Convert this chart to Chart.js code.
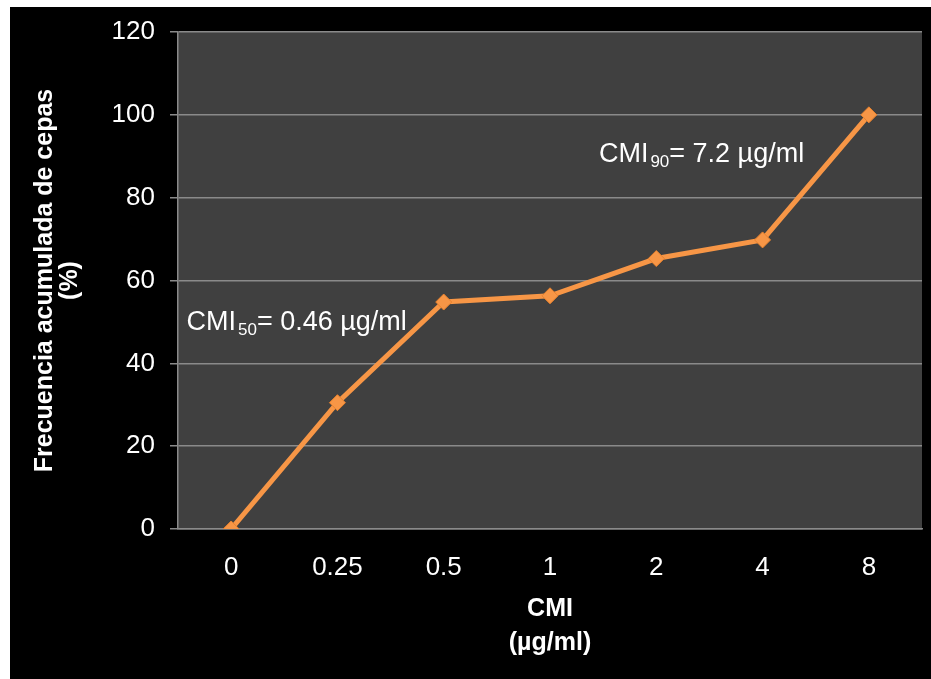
<!DOCTYPE html>
<html>
<head>
<meta charset="utf-8">
<script src="https://cdn.jsdelivr.net/npm/chart.js@4"></script>
<style>
    html, body { margin: 0; padding: 0; background: #ffffff; }
    #chartContainer {
        position: absolute;
        left: 10px;
        top: 7px;
        width: 921px;
        height: 672px;
        background: #000000;
    }
</style>
</head>
<body>
<div id="chartContainer">
    <canvas id="lineChart" width="921" height="672"></canvas>
</div>
<script>
// Data
const cmiLabels = ['0', '0.25', '0.5', '1', '2', '4', '8'];
const frecuenciaAcumulada = [0, 30.5, 54.8, 56.3, 65.3, 69.8, 100];
const yTicks = { min: 0, max: 120, step: 20 };

// Annotations: anchored in data space (category index, value)
const notas = [
    { main: 'CMI', sub: '50', rest: '= 0.46 \u00b5g/ml', x: -0.42, y: 48 },
    { main: 'CMI', sub: '90', rest: '= 7.2 \u00b5g/ml', x: 3.46, y: 88.7 }
];

const fontFamily = "'Liberation Sans', Arial, sans-serif";

// Dark gray plot area
const plotBackground = {
    id: 'plotBackground',
    beforeDraw(chart) {
        const { ctx, chartArea } = chart;
        ctx.save();
        ctx.fillStyle = '#404040';
        ctx.fillRect(chartArea.left, chartArea.top, chartArea.right - chartArea.left, chartArea.bottom - chartArea.top);
        ctx.restore();
    }
};

// CMI50 / CMI90 labels with subscripts
const cmiNotes = {
    id: 'cmiNotes',
    afterDatasetsDraw(chart) {
        const { ctx, scales } = chart;
        ctx.save();
        ctx.fillStyle = '#ffffff';
        ctx.textBaseline = 'alphabetic';
        notas.forEach(n => {
            let x = scales.x.getPixelForValue(n.x);
            const y = scales.y.getPixelForValue(n.y);
            ctx.font = '27px ' + fontFamily;
            ctx.fillText(n.main, x, y);
            x += ctx.measureText(n.main).width + 2;
            ctx.font = '17px ' + fontFamily;
            ctx.fillText(n.sub, x, y + 5);
            x += ctx.measureText(n.sub).width;
            ctx.font = '27px ' + fontFamily;
            ctx.fillText(n.rest, x, y);
        });
        ctx.restore();
    }
};

const ctx = document.getElementById('lineChart').getContext('2d');
new Chart(ctx, {
    type: 'line',
    data: {
        labels: cmiLabels,
        datasets: [{
            label: 'Frecuencia acumulada',
            data: frecuenciaAcumulada,
            borderColor: '#F79646',
            backgroundColor: '#F79646',
            borderWidth: 5,
            pointStyle: 'rectRot',
            pointRadius: 8,
            pointBorderColor: '#E8822E',
            pointBorderWidth: 1,
            tension: 0,
            fill: false
        }]
    },
    options: {
        responsive: false,
        animation: false,
        layout: { padding: { top: 25, right: 9, left: 0, bottom: 0 } },
        plugins: {
            legend: { display: false },
            tooltip: { enabled: false }
        },
        scales: {
            x: {
                offset: true,
                afterFit: scale => {
                    scale.height = 150;
                    scale.paddingLeft = 0;
                    scale.paddingRight = 0;
                },
                grid: { display: false, drawTicks: false, offset: true },
                border: { display: true, color: '#8a8a8a', width: 1.5 },
                ticks: {
                    color: '#ffffff',
                    padding: 23,
                    font: { family: fontFamily, size: 26 }
                },
                title: {
                    display: true,
                    text: ['CMI', '(\u00b5g/ml)'],
                    color: '#ffffff',
                    padding: { top: 0, bottom: 19 },
                    font: { family: fontFamily, size: 25, weight: 'bold', lineHeight: '34px' }
                }
            },
            y: {
                min: yTicks.min,
                max: yTicks.max,
                afterFit: scale => {
                    scale.width = 168;
                    scale.paddingTop = 0;
                    scale.paddingBottom = 0;
                },
                grid: { color: '#8a8a8a', lineWidth: 1.5, tickLength: 8 },
                border: { display: true, color: '#8a8a8a', width: 1.5 },
                ticks: {
                    stepSize: yTicks.step,
                    color: '#ffffff',
                    padding: 15,
                    font: { family: fontFamily, size: 26 }
                },
                title: {
                    display: true,
                    text: ['Frecuencia acumulada de cepas', '(%)'],
                    color: '#ffffff',
                    padding: { top: 23, bottom: 0 },
                    font: { family: fontFamily, size: 25, weight: 'bold', lineHeight: '25px' }
                }
            }
        }
    },
    plugins: [plotBackground, cmiNotes]
});
</script>
</body>
</html>
